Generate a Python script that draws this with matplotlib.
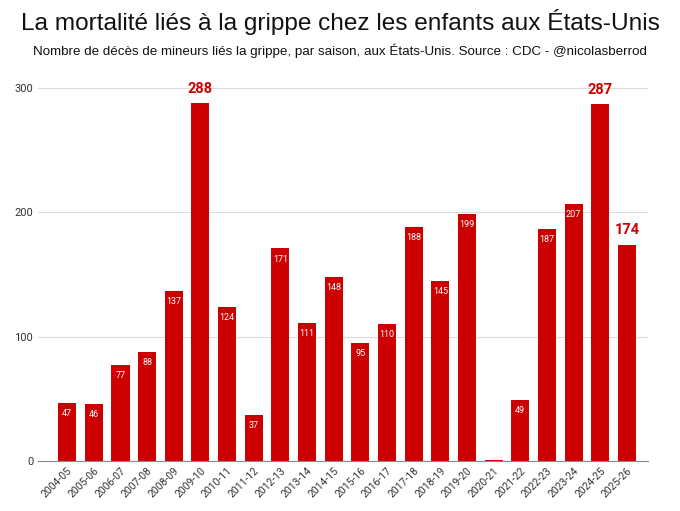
import matplotlib.pyplot as plt

seasons = ['2004-05', '2005-06', '2006-07', '2007-08', '2008-09', '2009-10', '2010-11',
           '2011-12', '2012-13', '2013-14', '2014-15', '2015-16', '2016-17', '2017-18',
           '2018-19', '2019-20', '2020-21', '2021-22', '2022-23', '2023-24', '2024-25',
           '2025-26']
deaths = [47, 46, 77, 88, 137, 288, 124, 37, 171, 111, 148, 95, 110, 188, 145, 199,
          1, 49, 187, 207, 287, 174]
highlight = ['2009-10', '2024-25', '2025-26']

plt.rcParams['font.family'] = ['Roboto', 'DejaVu Sans']
title_font = ['Liberation Sans', 'DejaVu Sans']
red = '#cc0000'

fig = plt.figure(figsize=(6.8, 5.11), dpi=100)
ax = fig.add_axes([0.056, 0.098, 0.897, 0.754])

x = range(len(seasons))
ax.bar(x, deaths, width=0.68, color=red, zorder=2)

for i, (s, v) in enumerate(zip(seasons, deaths)):
    if s in highlight:
        ax.text(i, v + 6, str(v), ha='center', va='bottom', color=red,
                fontsize=10.5, fontweight='bold')
    elif v >= 20:
        ax.text(i, v - 5, str(v), ha='center', va='top', color='white', fontsize=6.5)

ax.set_xlim(-1.09, 21.79)
ax.set_ylim(0, 310)
ax.set_yticks([0, 100, 200, 300])
ax.grid(axis='y', color='#dddddd', linewidth=0.8, zorder=0)
for sp in ['top', 'right', 'left']:
    ax.spines[sp].set_visible(False)
ax.spines['bottom'].set_color('#888888')
ax.tick_params(axis='both', length=0, labelsize=8, colors='#333333')
ax.set_xticks(list(x))
ax.set_xticklabels(seasons, rotation=45, ha='right', rotation_mode='anchor', fontsize=7.5)

fig.text(0.5, 0.957, 'La mortalité liés à la grippe chez les enfants aux États-Unis',
         ha='center', va='center', fontsize=17.6, color='#111111', family=title_font)
fig.text(0.5, 0.9, 'Nombre de décès de mineurs liés la grippe, par saison, aux États-Unis. '
         'Source : CDC - @nicolasberrod', ha='center', va='center', fontsize=9.6,
         color='#111111', family=title_font)

fig.savefig('out.png', dpi=100)
